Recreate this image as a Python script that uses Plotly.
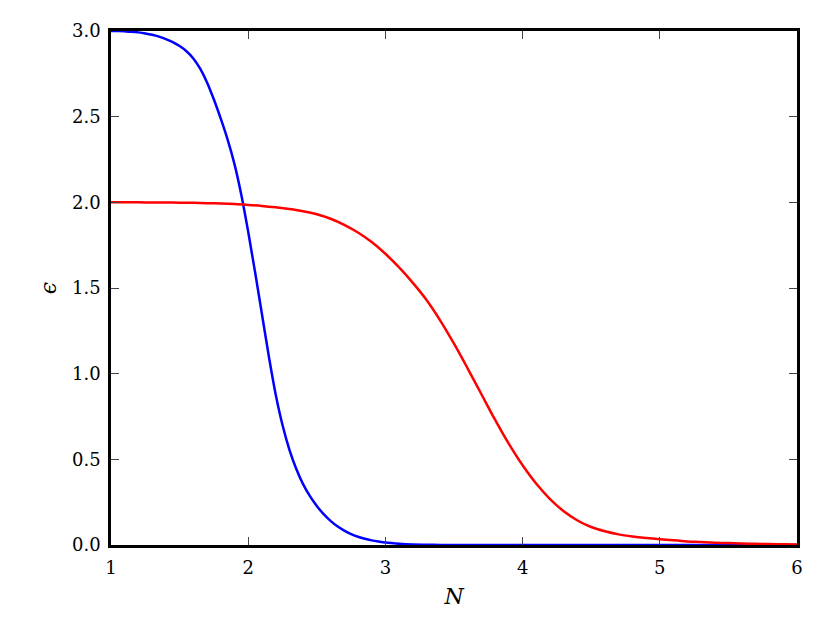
import plotly.graph_objects as go

# curve readings
blue_n = [1.0, 1.05, 1.1, 1.15, 1.2, 1.25, 1.3, 1.35, 1.4, 1.45, 1.5, 1.55, 1.6, 1.65,
          1.7, 1.75, 1.8, 1.85, 1.9, 1.95, 2.0, 2.05, 2.1, 2.15, 2.2, 2.25, 2.3, 2.35,
          2.4, 2.45, 2.5, 2.55, 2.6, 2.65, 2.7, 2.75, 2.8, 2.85, 2.9, 2.95, 3.0, 3.1,
          3.2, 3.3, 3.4, 3.5, 4.0, 5.0, 6.0]
blue_eps = [3.0, 2.9995, 2.998, 2.996, 2.992, 2.986, 2.978, 2.967, 2.953, 2.935, 2.912,
            2.882, 2.84, 2.78, 2.70, 2.60, 2.488, 2.366, 2.223, 2.043, 1.828, 1.593,
            1.348, 1.103, 0.88, 0.70, 0.557, 0.445, 0.355, 0.285, 0.228, 0.18, 0.141,
            0.109, 0.084, 0.064, 0.048, 0.036, 0.027, 0.02, 0.014, 0.007, 0.003, 0.0015,
            0.0007, 0.0003, 0.0, 0.0, 0.0]

red_n = [1.0, 1.1, 1.2, 1.3, 1.4, 1.5, 1.6, 1.7, 1.8, 1.9, 2.0, 2.1, 2.2, 2.3, 2.4,
         2.5, 2.6, 2.7, 2.8, 2.9, 3.0, 3.1, 3.2, 3.3, 3.4, 3.5, 3.6, 3.7, 3.8, 3.9,
         4.0, 4.1, 4.2, 4.3, 4.4, 4.5, 4.6, 4.7, 4.8, 4.9, 5.0, 5.1, 5.2, 5.3, 5.4,
         5.5, 5.6, 5.7, 5.8, 5.9, 6.0]
red_eps = [2.0, 2.0, 2.0, 1.999, 1.999, 1.998, 1.997, 1.995, 1.993, 1.99, 1.985, 1.979,
           1.971, 1.961, 1.948, 1.93, 1.904, 1.869, 1.824, 1.768, 1.70, 1.62, 1.53,
           1.43, 1.31, 1.175, 1.03, 0.88, 0.73, 0.59, 0.465, 0.357, 0.268, 0.197,
           0.143, 0.105, 0.08, 0.062, 0.05, 0.041, 0.034, 0.027, 0.021, 0.017, 0.013,
           0.011, 0.0085, 0.007, 0.0055, 0.0045, 0.0035]

x_ticks = [1, 2, 3, 4, 5, 6]
y_ticks = [0.0, 0.5, 1.0, 1.5, 2.0, 2.5, 3.0]

serif = "DejaVu Serif"

fig = go.Figure()
fig.add_trace(go.Scatter(x=blue_n, y=blue_eps, mode="lines",
                         line=dict(color="#0000ff", width=2.5, shape="spline", smoothing=1)))
fig.add_trace(go.Scatter(x=red_n, y=red_eps, mode="lines",
                         line=dict(color="#ff0000", width=2.5, shape="spline", smoothing=1)))

axis_common = dict(
    showgrid=False, zeroline=False,
    showline=True, linecolor="black", linewidth=2.5, mirror="ticks",
    ticks="inside", ticklen=8, tickwidth=1, tickcolor="#444444",
    tickfont=dict(family=serif, size=18, color="black"),
)

fig.update_xaxes(range=[1, 6], tickvals=x_ticks, ticktext=[str(v) for v in x_ticks],
                 ticklabelstandoff=5,
                 title=dict(text="<i>N</i>", font=dict(family=serif, size=22, color="black"),
                            standoff=12),
                 **axis_common)
fig.update_yaxes(range=[0, 3], tickvals=y_ticks, ticktext=[f"{v:.1f}" for v in y_ticks],
                 ticklabelstandoff=4,
                 title=dict(text="<i>ϵ</i>", font=dict(family=serif, size=22, color="black"),
                            standoff=10),
                 **axis_common)

# page body adds an 8px offset, margins compensate for it
fig.update_layout(
    width=830, height=623,
    margin=dict(l=103, r=41, t=23, b=86),
    paper_bgcolor="white", plot_bgcolor="white",
    showlegend=False,
)

fig.write_html("out.html")
